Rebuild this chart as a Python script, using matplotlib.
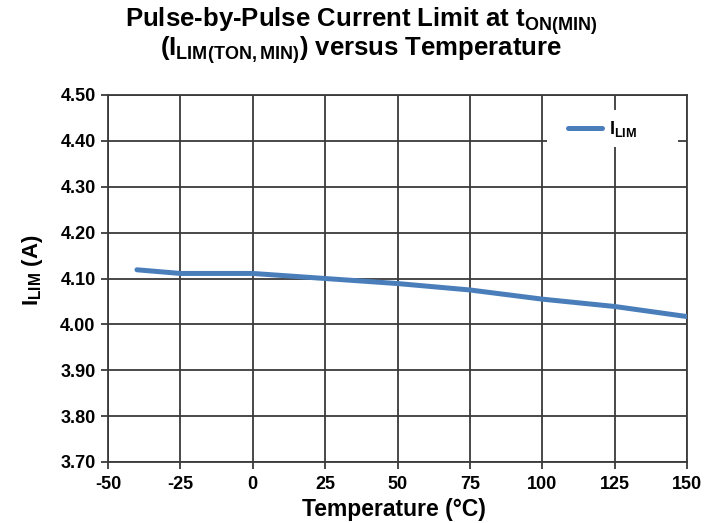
import matplotlib
matplotlib.use("Agg")
import matplotlib.pyplot as plt
from matplotlib.patches import Rectangle

temps = [-40, -25, -10, 0, 25, 50, 75, 100, 125, 150]
ilim = [4.119, 4.111, 4.111, 4.111, 4.100, 4.089, 4.075, 4.055, 4.039, 4.017]
xticks = [-50, -25, 0, 25, 50, 75, 100, 125, 150]
yticks = [3.70, 3.80, 3.90, 4.00, 4.10, 4.20, 4.30, 4.40, 4.50]

plt.rcParams['font.family'] = ['Liberation Sans', 'DejaVu Sans']
plt.rcParams['font.weight'] = 'bold'
plt.rcParams['mathtext.fontset'] = 'custom'
plt.rcParams['mathtext.rm'] = 'Liberation Sans:bold'
plt.rcParams['mathtext.it'] = 'Liberation Sans:bold'
plt.rcParams['mathtext.bf'] = 'Liberation Sans:bold'

fig = plt.figure(figsize=(7.09, 5.23), dpi=100)
ax = fig.add_axes([108/709, 61/523, 579/709, 367/523])

gc = '#3a3a3a'
ax.plot(temps, ilim, color='#4a7ebb', lw=3.6, solid_capstyle='round',
        label=r'I$_{\mathrm{LIM}}$', zorder=4)
ax.set_xlim(-50, 150)
ax.set_ylim(3.70, 4.50)
ax.set_xticks(xticks)
ax.set_xticklabels([str(t) for t in xticks])
ax.set_yticks(yticks)
ax.set_yticklabels([f'{v:.2f}' for v in yticks])
ax.grid(True, color=gc, lw=1.3)
ax.set_axisbelow(True)
for s in ax.spines.values():
    s.set_color(gc)
    s.set_linewidth(1.3)
ax.tick_params(direction='out', length=5, width=1.3, color=gc, labelsize=13)
ax.tick_params(axis='x', pad=5)
ax.tick_params(axis='y', pad=4)

ax.set_xlabel('Temperature (°C)', fontsize=16.5, fontweight='bold')
ax.xaxis.set_label_coords(0.493, -0.097)
ax.set_ylabel(r'I$_{\mathrm{LIM}}$ (A)', fontsize=16, fontweight='bold')
ax.yaxis.set_label_coords(-0.108, 0.523)

fig.text(0.509, 1 - 27/523, r'Pulse-by-Pulse Current Limit at t$_{\mathrm{ON(MIN)}}$',
         ha='center', va='baseline', fontsize=18.5, fontweight='bold')
fig.text(0.509, 1 - 56/523, r'(I$_{\mathrm{LIM(TON,MIN)}}$) versus Temperature',
         ha='center', va='baseline', fontsize=18.5, fontweight='bold')

# white legend background
ax.add_patch(Rectangle((0.758, 0.858), 0.226, 0.101, transform=ax.transAxes,
                       facecolor='white', edgecolor='none', zorder=2))
leg = ax.legend(loc='center left', bbox_to_anchor=((568 - 108) / 579, (462 - 129) / 367),
                fontsize=13, frameon=False, handlelength=1.9, handletextpad=0.35,
                borderpad=0, borderaxespad=0)
leg.set_zorder(5)

fig.savefig('out.png', dpi=100)
